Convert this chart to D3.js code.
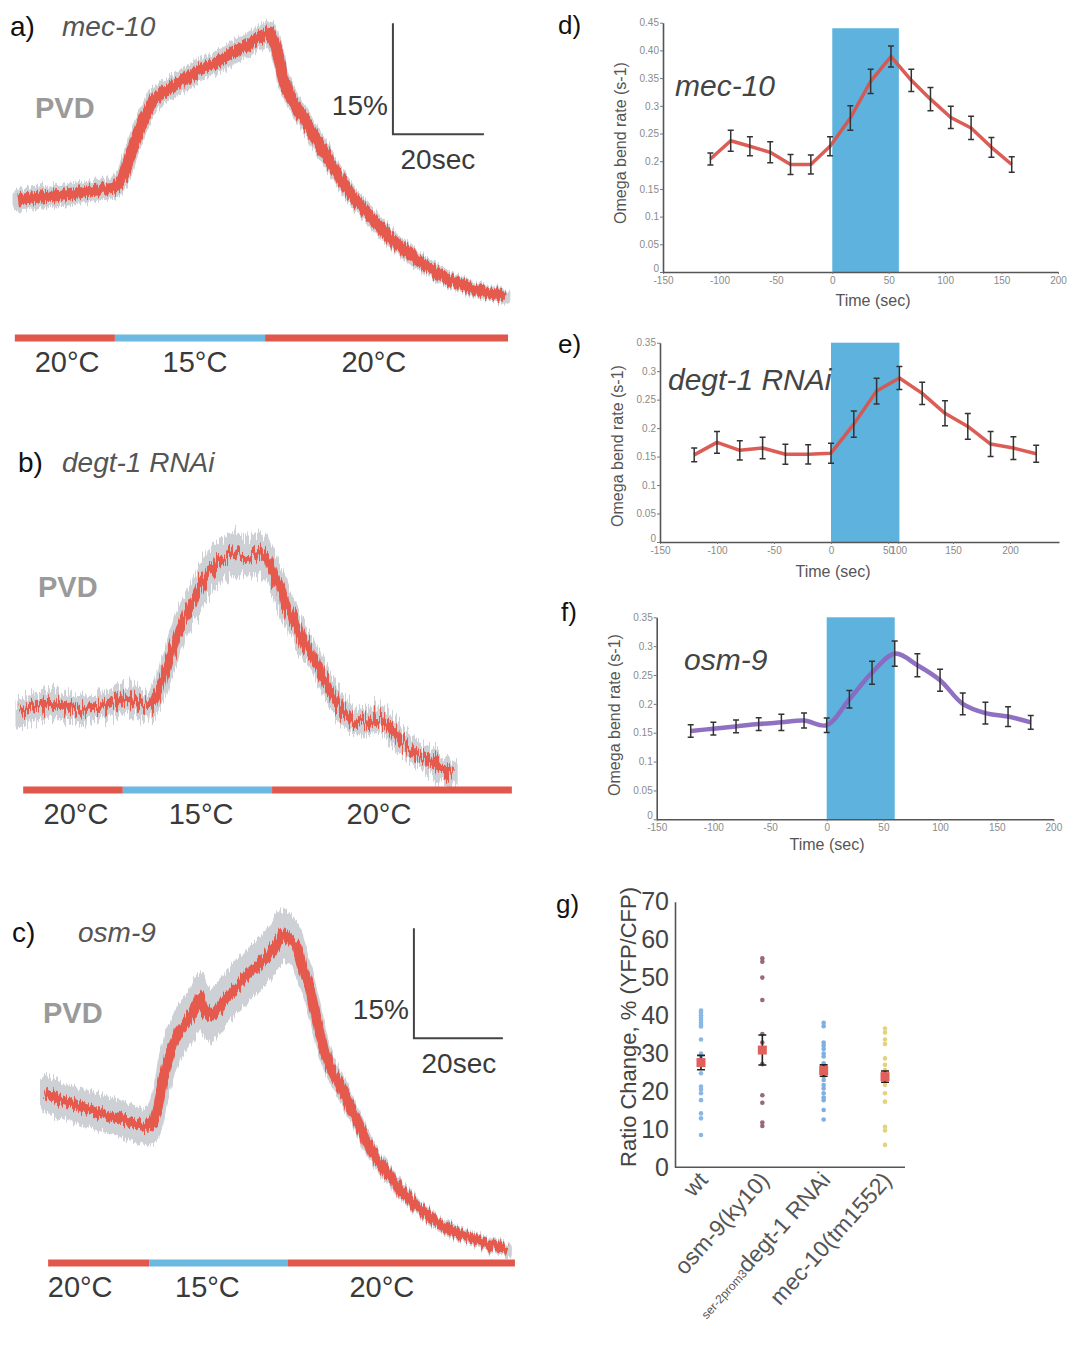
<!DOCTYPE html>
<html>
<head>
<meta charset="utf-8">
<script src="https://cdn.jsdelivr.net/npm/d3@7"></script>
<style>
  body { margin: 0; background: #fff; }
  text { font-family: "Liberation Sans", Arial, sans-serif; }
</style>
</head>
<body>
<script>
////////////////////////////////////////////////////////////////////////
// Data

// a) mec-10, PVD calcium trace: time (s), ratio change (%), sem (%)
let aTime  = [0, 3.3, 10.8, 18, 21.3, 23.1, 25.3, 27.5, 29.7, 32.7, 36.3, 40, 43.7, 47.3, 51, 53.8, 55.4, 56.9, 58.2, 59.8, 62, 65.7, 69.2, 73, 76.7, 80.2, 84, 87.7, 91.2, 94.9, 98.7, 102.2, 105.9, 107];
let aRatio = [0, 0.3, 0.7, 1.4, 1.6, 3.1, 7.2, 10.8, 13.5, 14.9, 16.2, 17.6, 18.6, 19.9, 21.2, 22.3, 22.7, 20.3, 16.6, 13.9, 11.8, 8.1, 4.5, 0.9, -1.8, -4.1, -6.4, -8.1, -9.5, -10.8, -11.8, -12.4, -12.8, -13.1];
let aSem   = [0.7, 0.7, 0.7, 0.7, 0.7, 0.8, 0.8, 0.8, 0.8, 0.8, 0.8, 0.8, 0.8, 0.8, 0.8, 0.8, 0.8, 0.7, 0.6, 0.6, 0.6, 0.6, 0.5, 0.5, 0.5, 0.4, 0.4, 0.4, 0.4, 0.3, 0.3, 0.3, 0.3, 0.3];

// b) degt-1 RNAi
let bTime  = [0, 2.9, 6.6, 10.3, 13.8, 17.6, 21.3, 24.8, 27.9, 29.2, 30.8, 33, 35.2, 37.4, 39.6, 41.8, 44, 46.8, 49.9, 52.7, 54.3, 55.6, 57.8, 60, 62.2, 64.4, 66.6, 68.8, 71, 73.2, 76.3, 78.5, 80.7, 83.5, 87.3, 90.8, 93.8, 95.2];
let bRatio = [-0.4, 0.4, 0.9, 0.4, 0, 0.4, 1.4, 1.4, 0.4, 0.9, 3, 7.2, 11.2, 13.9, 16.6, 18.9, 20.3, 21.2, 20.7, 21.2, 20.7, 18.5, 15.3, 12.2, 9.5, 7.2, 4.5, 1.8, 0, -1.4, -1.8, -0.9, -1.8, -4.1, -5.8, -7.2, -8.1, -8.5];
let bSem   = [1.3, 1.3, 1.3, 1.3, 1.3, 1.3, 1.3, 1.3, 1.3, 1.3, 1.5, 1.7, 1.8, 1.9, 2, 2.2, 2.2, 2.2, 2.2, 2.2, 2, 1.8, 1.6, 1.4, 1.3, 1.2, 1.2, 1.2, 1.2, 1.2, 1.2, 1.2, 1.2, 1.1, 1.1, 1.1, 1.1, 1.1];

// c) osm-9
let cTime  = [0, 3.4, 8.5, 12.4, 16.2, 19.8, 22.9, 24.3, 25.4, 26.5, 28.1, 30.3, 32.6, 34.2, 34.8, 35.5, 37.1, 38.7, 40.9, 43.8, 46.7, 49.9, 52.1, 53.5, 55.1, 56.6, 58, 59.6, 61.1, 62.5, 64, 65.6, 67.9, 70.1, 72.4, 74.6, 76.9, 79.8, 83.6, 87.2, 91, 94.8, 98.4, 102.2, 103.8];
let cRatio = [2.3, 1.4, 0.4, -0.4, -1, -1.8, -2.3, -1.8, 0.4, 4.1, 7.8, 10.9, 12.7, 14.6, 15.4, 14.1, 12.7, 13.6, 15.4, 17.3, 19.1, 20.9, 22.8, 24.1, 23.2, 22.2, 19.1, 16.4, 12.3, 8.6, 5.9, 4.1, 1.4, -1.4, -4.5, -6.8, -8.6, -10.9, -13.2, -15, -16.4, -17.3, -18.1, -18.7, -19.1];
let cSem   = [1.8, 1.8, 1.8, 1.8, 1.8, 1.8, 1.8, 2.1, 2.4, 2.7, 2.7, 2.7, 2.7, 2.7, 2.7, 2.7, 2.7, 2.7, 2.7, 2.7, 2.7, 2.7, 2.7, 2.7, 2.5, 2.2, 1.9, 1.5, 1.2, 1, 0.8, 0.7, 0.6, 0.5, 0.5, 0.4, 0.4, 0.4, 0.3, 0.3, 0.3, 0.3, 0.3, 0.3, 0.3];

// temperature steps below each trace (edges in s) and their labels
let tempLabels = ["20°C", "15°C", "20°C"];
let tempColors = ["#e2574c", "#6bb8e0", "#e2574c"];
let aTempEdges = [-0.7, 21.3, 54.3, 107.7];
let bTempEdges = [0.7, 22.6, 55.4, 108.1];
let cTempEdges = [0.7, 23.4, 54.6, 105.6];
let aTempLabelT = [10.8, 38.9, 78.2];
let bTempLabelT = [12.3, 39.8, 78.9];
let cTempLabelT = [7.9, 36.5, 75.7];

// d) e) f) omega bend rate (s-1) vs time (s)
let dTime = [-108, -90, -73, -55, -37, -19, -2, 16, 34, 52, 70, 87, 105, 123, 141, 159];
let dRate = [0.204, 0.237, 0.227, 0.216, 0.194, 0.194, 0.227, 0.278, 0.344, 0.389, 0.346, 0.312, 0.279, 0.26, 0.225, 0.194];
let dErr  = [0.011, 0.019, 0.017, 0.019, 0.018, 0.017, 0.017, 0.022, 0.022, 0.019, 0.02, 0.021, 0.02, 0.021, 0.018, 0.014];

let eTime = [-120, -100, -80, -60, -40, -20, 0, 20, 40, 60, 80, 100, 120, 140, 160, 180];
let eRate = [0.153, 0.175, 0.161, 0.165, 0.154, 0.154, 0.156, 0.207, 0.265, 0.288, 0.261, 0.226, 0.203, 0.172, 0.165, 0.155];
let eErr  = [0.012, 0.019, 0.017, 0.019, 0.0175, 0.017, 0.0175, 0.023, 0.0225, 0.02, 0.0196, 0.022, 0.0225, 0.022, 0.02, 0.015];

let fTime = [-120, -100, -80, -60, -40, -20, 0, 20, 40, 60, 80, 100, 120, 140, 160, 180];
let fRate = [0.153, 0.157, 0.161, 0.165, 0.168, 0.171, 0.163, 0.208, 0.254, 0.287, 0.267, 0.241, 0.2, 0.184, 0.178, 0.168];
let fErr  = [0.011, 0.011, 0.011, 0.011, 0.014, 0.013, 0.0125, 0.015, 0.02, 0.022, 0.02, 0.019, 0.019, 0.019, 0.017, 0.012];

let dYTicks = [0, 0.05, 0.1, 0.15, 0.2, 0.25, 0.3, 0.35, 0.4, 0.45];
let dYLabels = ["0", "0.05", "0.1", "0.15", "0.2", "0.25", "0.3", "0.35", "0.40", "0.45"];
let efYTicks = [0, 0.05, 0.1, 0.15, 0.2, 0.25, 0.3, 0.35];
let efYLabels = ["0", "0.05", "0.1", "0.15", "0.2", "0.25", "0.3", "0.35"];
let timeTicks = [-150, -100, -50, 0, 50, 100, 150, 200];
let timeLabels = ["-150", "-100", "-50", "0", "50", "100", "150", "200"];
// panel e has its tick labels printed at shifted places in the original
let eTickPos = [-150, -100, -50, 0, 50, 59, 107, 157];

// g) peak ratio change, % (YFP/CFP)
let gCategories = ["wt", "osm-9(ky10)", "degt-1 RNAi", "mec-10(tm1552)"];
let wtPoints   = [41.3, 40.8, 40.1, 39.5, 38.8, 38.1, 37.5, 37.1, 33.7, 30, 29.3, 28.6, 27.6, 27, 24.8, 21.3, 20.5, 19.5, 17.7, 14.2, 12.9, 8.5];
let osmPoints  = [55.1, 54.2, 50, 44.1, 35.1, 32.9, 27.2, 19, 17, 11.8, 10.9];
let degtPoints = [38.1, 37.2, 32.9, 32.1, 31.2, 30, 29.2, 27.4, 26.3, 25.2, 23.9, 23, 21.7, 20.8, 19.5, 18.4, 17.7, 15.1, 12.6];
let mecPoints  = [36.6, 35.5, 33.7, 32.5, 28.7, 27, 25.6, 23.9, 22.6, 21.7, 19.5, 17.3, 10.7, 9.7, 5.9];
let gMeans = [27.6, 30.9, 25.5, 23.9];
let gErrs  = [1.9, 3.95, 1.5, 1.5];
let gColors = ["#8ab8e6", "#9a6878", "#7eb0e2", "#e4d27c"];
let gTicks = [0, 10, 20, 30, 40, 50, 60, 70];

////////////////////////////////////////////////////////////////////////
// Canvas

let svg = d3.select("body").append("svg")
  .attr("width", 1081).attr("height", 1351);
let defs = svg.append("defs");

// rough, noisy look of the raw imaging traces (render effect only).
// The trace is first laid on white so the displaced edges stay clean.
function makeJitter(id, amount) {
  let f = defs.append("filter").attr("id", id)
    .attr("x", "-4%").attr("y", "-10%").attr("width", "108%").attr("height", "120%")
    .attr("color-interpolation-filters", "sRGB");
  f.append("feFlood").attr("flood-color", "#fff").attr("result", "white");
  f.append("feComposite").attr("in", "SourceGraphic").attr("in2", "white")
    .attr("operator", "over").attr("result", "solid");
  f.append("feTurbulence").attr("type", "fractalNoise")
    .attr("baseFrequency", "0.55 0.03").attr("numOctaves", 2).attr("seed", 5)
    .attr("result", "noise");
  f.append("feColorMatrix").attr("in", "noise").attr("type", "matrix")
    .attr("values", "0 0 0 0 0.5  0 1 0 0 0  0 0 1 0 0  0 0 0 0 1")
    .attr("result", "vnoise");
  f.append("feDisplacementMap").attr("in", "solid").attr("in2", "vnoise")
    .attr("scale", amount).attr("xChannelSelector", "R").attr("yChannelSelector", "G");
}
makeJitter("jitA", 13);
makeJitter("jitB", 30);
makeJitter("jitC", 15);

function label(x, y, txt, size, opts) {
  opts = opts || {};
  return svg.append("text")
    .attr("x", x).attr("y", y)
    .attr("font-size", size)
    .attr("fill", opts.fill || "#222")
    .attr("font-style", opts.italic ? "italic" : null)
    .attr("font-weight", opts.bold ? "bold" : null)
    .attr("text-anchor", opts.anchor || "start")
    .text(txt);
}

/**
 * Draws one PVD trace: grey sem band, thick red mean, temperature bar,
 * optional scale bar.
 */
function drawTrace(p) {
  let x = d3.scaleLinear().domain([0, 100]).range([p.x0, p.x0 + 100 * p.pxPerSec]);
  let y = d3.scaleLinear().domain([0, 10]).range([p.y0, p.y0 - 10 * p.pxPerPct]);
  let rows = p.time.map(function(t, i) { return { t: t, v: p.ratio[i], s: p.sem[i] }; });

  let g = svg.append("g").attr("filter", "url(#" + p.filter + ")");
  g.append("path").datum(rows)
    .attr("d", d3.area().x(d => x(d.t)).y0(d => y(d.v - d.s)).y1(d => y(d.v + d.s)))
    .attr("fill", "#cdd0d5").attr("stroke", "#cdd0d5")
    .attr("stroke-width", p.lineWidth).attr("stroke-linejoin", "round");
  g.append("path").datum(rows)
    .attr("d", d3.line().x(d => x(d.t)).y(d => y(d.v)))
    .attr("fill", "none").attr("stroke", "#e65a4e")
    .attr("stroke-width", p.lineWidth).attr("stroke-linejoin", "round");

  // temperature bar
  for (let i = 0; i < 3; i++) {
    svg.append("rect")
      .attr("x", x(p.tempEdges[i])).attr("y", p.barY - 3.5)
      .attr("width", x(p.tempEdges[i + 1]) - x(p.tempEdges[i])).attr("height", 7)
      .attr("fill", tempColors[i]);
    label(x(p.tempLabelT[i]), p.barY + 34, tempLabels[i], 29, { anchor: "middle", fill: "#3a3a3a" });
  }

  if (p.scaleBar) {
    let cx = x(p.scaleBar[0]), cy = y(p.scaleBar[1]);
    svg.append("path")
      .attr("d", "M" + cx + "," + (cy - (y(0) - y(15))) + "V" + cy + "H" + (cx + x(20) - x(0)))
      .attr("fill", "none").attr("stroke", "#444").attr("stroke-width", 2);
    label(cx - 5, cy - 19, "15%", 28, { anchor: "end", fill: "#3a3a3a" });
    label(cx + 45, cy + 35, "20sec", 28, { anchor: "middle", fill: "#3a3a3a" });
  }
}

drawTrace({ time: aTime, ratio: aRatio, sem: aSem, filter: "jitA", lineWidth: 11,
  x0: 18, pxPerSec: 4.55, y0: 200, pxPerPct: 7.4, barY: 338,
  tempEdges: aTempEdges, tempLabelT: aTempLabelT, scaleBar: [82.4, 8.9] });
drawTrace({ time: bTime, ratio: bRatio, sem: bSem, filter: "jitB", lineWidth: 9,
  x0: 20, pxPerSec: 4.55, y0: 710, pxPerPct: 7.4, barY: 790,
  tempEdges: bTempEdges, tempLabelT: bTempLabelT, scaleBar: null });
drawTrace({ time: cTime, ratio: cRatio, sem: cSem, filter: "jitC", lineWidth: 10,
  x0: 45, pxPerSec: 4.45, y0: 1110, pxPerPct: 7.33, barY: 1263,
  tempEdges: cTempEdges, tempLabelT: cTempLabelT, scaleBar: [82.9, 9.8] });

label(10, 36, "a)", 28, { fill: "#111" });
label(62, 36, "mec-10", 28, { italic: true, fill: "#555" });
label(35, 118, "PVD", 29, { bold: true, fill: "#9a9a9a" });
label(18, 472, "b)", 28, { fill: "#111" });
label(62, 472, "degt-1 RNAi", 28, { italic: true, fill: "#555" });
label(38, 597, "PVD", 29, { bold: true, fill: "#9a9a9a" });
label(12, 942, "c)", 28, { fill: "#111" });
label(78, 942, "osm-9", 28, { italic: true, fill: "#555" });
label(43, 1023, "PVD", 29, { bold: true, fill: "#9a9a9a" });

/**
 * Omega bend rate panel with stimulus window, error bars and a thick line.
 */
function drawRate(p) {
  let x = d3.scaleLinear().domain([-150, 200]).range(p.xRange);
  let y = d3.scaleLinear().domain([0, p.yMax]).range(p.yRange);

  svg.append("rect")
    .attr("x", x(0)).attr("y", y(p.stimTop))
    .attr("width", x(p.stimEnd) - x(0)).attr("height", y(0) - y(p.stimTop))
    .attr("fill", "#5db3de");

  let xAxis = svg.append("g").attr("transform", "translate(0," + p.yRange[0] + ")")
    .call(d3.axisBottom(x).tickValues(p.xTickPos).tickSize(2).tickSizeOuter(0).tickPadding(3)
      .tickFormat(function(d, i) { return timeLabels[i]; }));
  let yAxis = svg.append("g").attr("transform", "translate(" + p.xRange[0] + ",0)")
    .call(d3.axisLeft(y).tickValues(p.yTicks).tickSize(3).tickSizeOuter(0).tickPadding(1)
      .tickFormat(function(d, i) { return p.yLabels[i]; }));
  [xAxis, yAxis].forEach(function(a) {
    a.select(".domain").attr("stroke", "#555").attr("stroke-width", 1.6);
    a.selectAll(".tick line").attr("stroke", "#777");
    a.selectAll(".tick text").attr("fill", "#8a8a8a")
      .attr("font-family", "'DejaVu Sans Mono', monospace").attr("font-size", 10);
  });
  // lift the "0" of the y axis a little, as printed
  yAxis.selectAll(".tick text").filter(d => d === 0).attr("dy", "-0.1em");

  let rows = p.time.map(function(t, i) { return { t: t, v: p.rate[i], e: p.err[i] }; });
  svg.append("path").datum(rows)
    .attr("d", d3.line().curve(p.curve).x(d => x(d.t)).y(d => y(d.v)))
    .attr("fill", "none").attr("stroke", p.color).attr("stroke-width", p.lineWidth)
    .attr("stroke-linejoin", "round").attr("opacity", 0.95);

  let bars = svg.append("g").attr("stroke", "#333").attr("stroke-width", 1.5);
  bars.selectAll("path").data(rows).join("path")
    .attr("d", function(d) {
      let cx = x(d.t), y1 = y(d.v + d.e), y2 = y(d.v - d.e);
      return "M" + cx + "," + y1 + "V" + y2 +
        "M" + (cx - 3) + "," + y1 + "H" + (cx + 3) +
        "M" + (cx - 3) + "," + y2 + "H" + (cx + 3);
    });

  svg.append("text")
    .attr("transform", "translate(" + p.yTitle[0] + "," + p.yTitle[1] + ") rotate(-90)")
    .attr("text-anchor", "middle").attr("font-size", 16).attr("fill", "#555")
    .text("Omega bend rate (s-1)");
  label(p.xTitle[0], p.xTitle[1], "Time (sec)", 16, { anchor: "middle", fill: "#555" });
  label(p.title[0], p.title[1], p.name, 30, { italic: true, fill: "#444" });
  label(p.letter[0], p.letter[1], p.letterText, 26, { fill: "#111" });
}

drawRate({ time: dTime, rate: dRate, err: dErr, color: "#d9544c", lineWidth: 3.5, curve: d3.curveLinear,
  xRange: [663, 1058], yRange: [272, 22.7], yMax: 0.45, yTicks: dYTicks, yLabels: dYLabels,
  xTickPos: timeTicks, stimEnd: 59, stimTop: 0.44,
  yTitle: [626, 143], xTitle: [873, 306], title: [675, 96], name: "mec-10",
  letter: [558, 34], letterText: "d)" });
drawRate({ time: eTime, rate: eRate, err: eErr, color: "#d9544c", lineWidth: 3.5, curve: d3.curveLinear,
  xRange: [660, 1059], yRange: [542, 342.7], yMax: 0.35, yTicks: efYTicks, yLabels: efYLabels,
  xTickPos: eTickPos, stimEnd: 60, stimTop: 0.35,
  yTitle: [623, 446], xTitle: [833, 577], title: [668, 390], name: "degt-1 RNAi",
  letter: [558, 353], letterText: "e)" });
drawRate({ time: fTime, rate: fRate, err: fErr, color: "#8a68c0", lineWidth: 4.5, curve: d3.curveCatmullRom,
  xRange: [656.7, 1053.4], yRange: [819.3, 617.3], yMax: 0.35, yTicks: efYTicks, yLabels: efYLabels,
  xTickPos: timeTicks, stimEnd: 60, stimTop: 0.35,
  yTitle: [620, 715], xTitle: [827, 850], title: [684, 670], name: "osm-9",
  letter: [561, 621], letterText: "f)" });

////////////////////////////////////////////////////////////////////////
// g) scatter of ratio change per genotype

let gx = d3.scalePoint().domain(gCategories).range([701, 885]);
let gy = d3.scaleLinear().domain([0, 70]).range([1167.3, 901.7]);
let gPoints = [wtPoints, osmPoints, degtPoints, mecPoints];

let gyAxis = svg.append("g").attr("transform", "translate(675,0)")
  .call(d3.axisLeft(gy).tickValues(gTicks).tickSize(0).tickPadding(6));
gyAxis.select(".domain").attr("stroke", "#555").attr("stroke-width", 1.6);
gyAxis.selectAll(".tick text").attr("fill", "#444").attr("font-size", 25)
  .attr("font-family", "'Liberation Sans', Arial, sans-serif");
svg.append("line").attr("x1", 675).attr("x2", 905)
  .attr("y1", gy(0)).attr("y2", gy(0)).attr("stroke", "#555").attr("stroke-width", 1.6);

gCategories.forEach(function(cat, k) {
  svg.append("g").selectAll("circle").data(gPoints[k]).join("circle")
    .attr("cx", gx(cat)).attr("cy", d => gy(d)).attr("r", 2.3)
    .attr("fill", gColors[k]);
  let cx = gx(cat), y1 = gy(gMeans[k] + gErrs[k]), y2 = gy(gMeans[k] - gErrs[k]);
  svg.append("path")
    .attr("d", "M" + cx + "," + y1 + "V" + y2 + "M" + (cx - 4) + "," + y1 + "H" + (cx + 4) +
      "M" + (cx - 4) + "," + y2 + "H" + (cx + 4))
    .attr("stroke", "#222").attr("stroke-width", 1.6).attr("fill", "none");
  svg.append("rect")
    .attr("x", cx - 4.5).attr("y", gy(gMeans[k]) - 4.5).attr("width", 9).attr("height", 9)
    .attr("fill", "#e0605c");
});

// rotated category labels
gCategories.forEach(function(cat) {
  let t = svg.append("text")
    .attr("transform", "translate(" + (gx(cat) + 8) + ",1181) rotate(-48)")
    .attr("text-anchor", "end").attr("font-size", 23).attr("fill", "#555");
  if (cat === "degt-1 RNAi") {
    t.append("tspan").attr("font-size", 12).text("ser-2prom3");
  }
  t.append("tspan").text(cat);
});

svg.append("text")
  .attr("transform", "translate(636,1027) rotate(-90)")
  .attr("text-anchor", "middle").attr("font-size", 22).attr("fill", "#444")
  .text("Ratio Change, % (YFP/CFP)");
label(556, 913, "g)", 26, { fill: "#111" });
</script>
</body>
</html>
